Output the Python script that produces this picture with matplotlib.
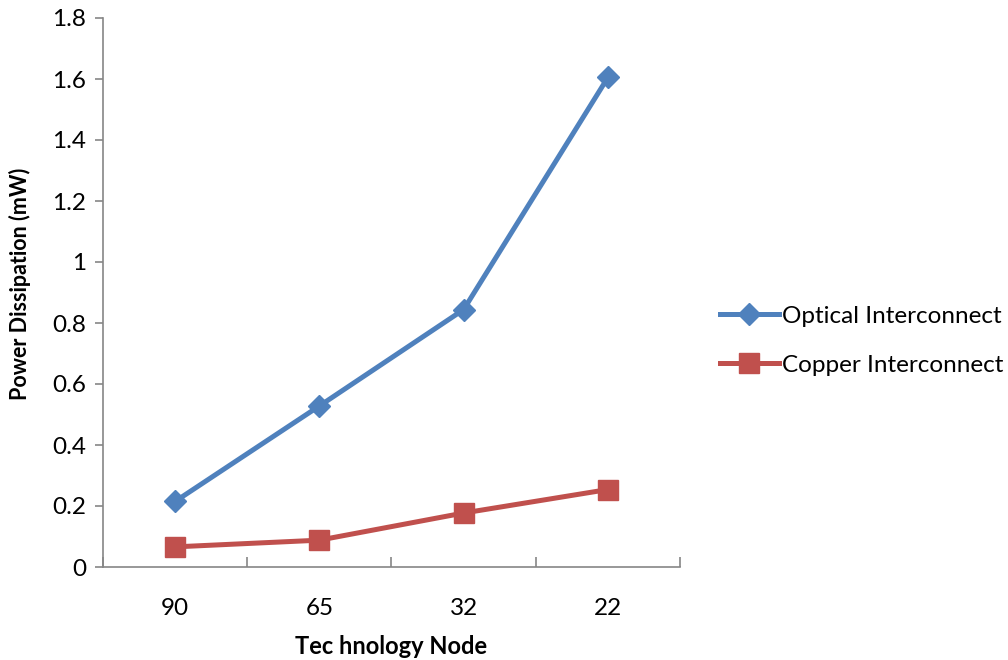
import matplotlib
matplotlib.use("Agg")
import matplotlib.pyplot as plt

categories = ["90", "65", "32", "22"]
optical = [0.215, 0.528, 0.844, 1.605]
copper = [0.066, 0.088, 0.177, 0.254]
yticks = [0, 0.2, 0.4, 0.6, 0.8, 1.0, 1.2, 1.4, 1.6, 1.8]
ytick_labels = ["0", "0.2", "0.4", "0.6", "0.8", "1", "1.2", "1.4", "1.6", "1.8"]

plt.rcParams['font.family'] = ['Lato', 'DejaVu Sans']

fig = plt.figure(figsize=(10.08, 6.6), dpi=100)
ax = fig.add_axes([103/1008, 1 - 567/660, (680-103)/1008, (567-18)/660])

x = list(range(len(categories)))
ax.plot(x, optical, color="#4F81BD", lw=3.6, marker="D", ms=11, label="Optical Interconnect")
ax.plot(x, copper, color="#C0504D", lw=3.6, marker="s", ms=14, label="Copper Interconnect")

ax.set_xlim(-0.5, len(categories) - 0.5)
ax.set_ylim(0, 1.8)
ax.set_yticks(yticks)
ax.set_yticklabels(ytick_labels)
ax.set_xticks([i - 0.5 for i in range(len(categories) + 1)])
ax.set_xticklabels([])
ax.set_xticks(x, minor=True)
ax.set_xticklabels(categories, minor=True)
ax.tick_params(axis="x", which="major", direction="in", length=7, color="#868686", width=1.2)
ax.tick_params(axis="x", which="minor", length=0, labelsize=17.5, pad=22)
ax.tick_params(axis="y", direction="out", length=6, color="#868686", width=1.2, labelsize=17.5, pad=6)

for s in ["top", "right"]:
    ax.spines[s].set_visible(False)
for s in ["left", "bottom"]:
    ax.spines[s].set_color("#868686")
    ax.spines[s].set_linewidth(1.2)

ax.set_xlabel("Tec hnology Node", fontsize=17, fontweight="bold", labelpad=12)
ax.set_ylabel("Power Dissipation (mW)", fontsize=15.5, fontweight="bold")
ax.yaxis.set_label_coords(-0.125, 0.515)

ax.legend(loc="center left", bbox_to_anchor=(1.053, 0.412), frameon=False, fontsize=17.5,
          handlelength=2.4, handletextpad=0.15, labelspacing=1.15, borderaxespad=0)

fig.savefig("out.png", dpi=100)
